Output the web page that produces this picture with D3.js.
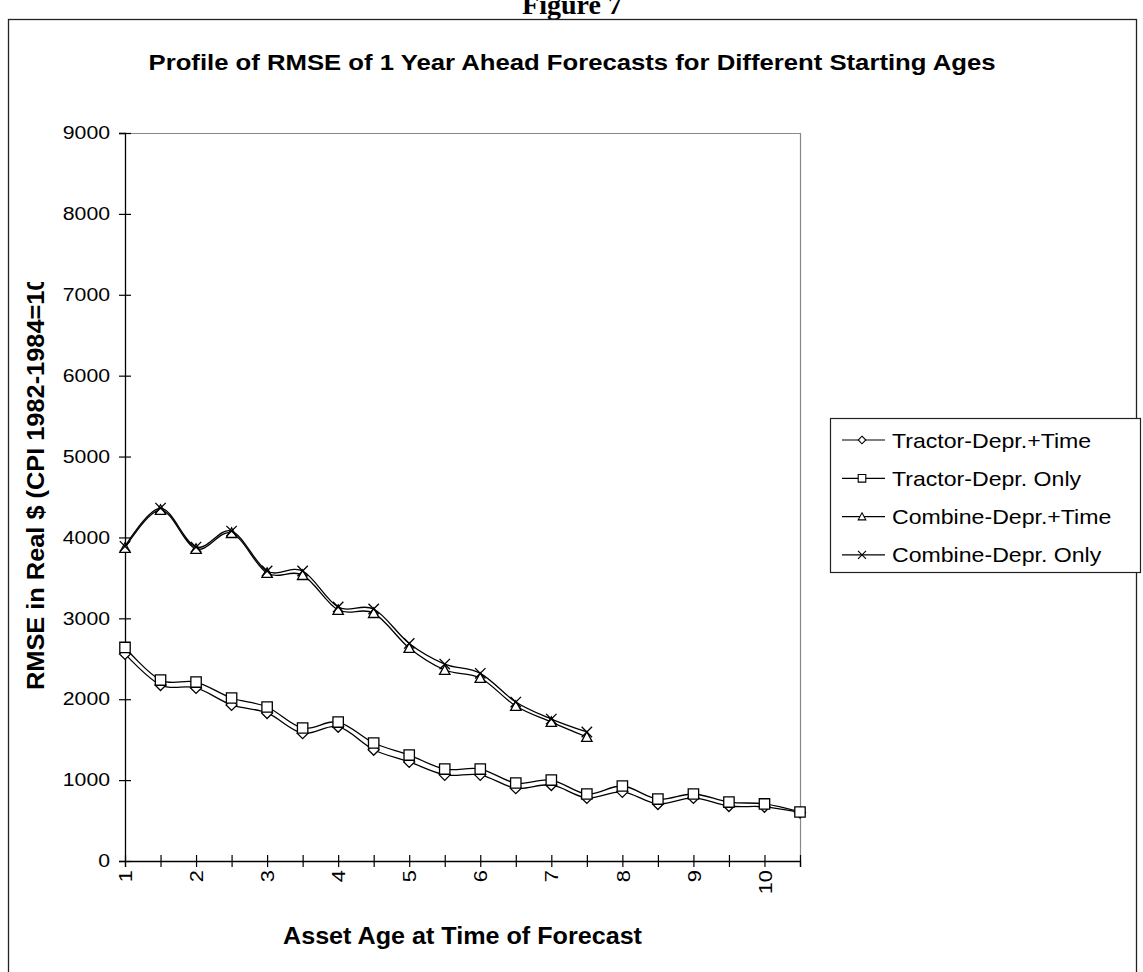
<!DOCTYPE html>
<html><head><meta charset="utf-8">
<script src="https://cdn.jsdelivr.net/npm/d3@7"></script>
<style>body{margin:0;background:#fff}svg{display:block}text{font-family:Arial,"Liberation Sans",sans-serif;fill:#000}</style>
</head><body><svg id="c" width="1143" height="972"></svg>
<script>
const ages = [1,1.5,2,2.5,3,3.5,4,4.5,5,5.5,6,6.5,7,7.5,8,8.5,9,9.5,10,10.5];
const tractorTime = [2560,2175,2140,1930,1830,1580,1660,1375,1225,1065,1065,900,940,780,855,705,780,680,670,600];
const tractorOnly = [2640,2237,2212,2015,1904,1644,1718,1459,1310,1137,1137,964,1001,828,927,766,828,729,705,606];
const combineTime = [3870,4340,3857,4054,3560,3535,3103,3065,2633,2361,2262,1916,1718,1533];
const combineOnly = [3890,4363,3881,4079,3585,3585,3140,3115,2690,2435,2320,1965,1755,1595];
const seriesNames = ["Tractor-Depr.+Time","Tractor-Depr. Only","Combine-Depr.+Time","Combine-Depr. Only"];
const yTicks = [0,1000,2000,3000,4000,5000,6000,7000,8000,9000];

const svg = d3.select("#c");
svg.append("text").attr("x",572).attr("y",14).attr("text-anchor","middle")
  .style("font-family","'Times New Roman','Liberation Serif',serif").style("font-weight","bold").style("font-size","28px").text("Figure 7");
svg.append("rect").attr("x",8.5).attr("y",19.5).attr("width",1128).attr("height",980)
  .attr("fill","none").attr("stroke","#222").attr("stroke-width",1.3);

const x = d3.scalePoint().domain(ages).range([125,800]);
const y = d3.scaleLinear().domain([0,9000]).range([861,133]);

svg.append("path").attr("d",`M125,133.5H800.5V861`).attr("fill","none").attr("stroke","#888").attr("stroke-width",1.2);

function stretch(sel, f){ sel.each(function(){ const L=this.getComputedTextLength(); d3.select(this).attr("textLength",L*f).attr("lengthAdjust","spacingAndGlyphs");}); }

const gy = svg.append("g").attr("transform","translate(125,0)")
  .call(d3.axisLeft(y).tickValues(yTicks).tickSize(6).tickPadding(9).tickFormat(d3.format("d")));
gy.select(".domain").attr("stroke","#000").attr("stroke-width",1.3);
gy.selectAll(".tick line").attr("x1",6).attr("stroke","#000").attr("stroke-width",1.2);
gy.selectAll(".tick text").style("font-size","18px").attr("font-family",null);
stretch(gy.selectAll(".tick text"),1.18);

const gx = svg.append("g").attr("transform","translate(0,861)")
  .call(d3.axisBottom(x).tickValues(ages).tickSize(6).tickFormat(d=>Number.isInteger(d)?String(d):""));
gx.select(".domain").attr("stroke","#000").attr("stroke-width",1.3);
gx.selectAll(".tick line").attr("y1",-6).attr("stroke","#000").attr("stroke-width",1.2);
gx.selectAll(".tick text").style("font-size","19px").attr("font-family",null)
  .attr("transform","rotate(-90)").attr("text-anchor","end").attr("x",-9).attr("y",0).attr("dy","0.35em");
stretch(gx.selectAll(".tick text"),1.15);

const M = {
  diamond:(s)=>`M0,${-s}L${s},0L0,${s}L${-s},0Z`,
  square:(s)=>`M${-s},${-s}H${s}V${s}H${-s}Z`,
  triangle:(s)=>`M0,${-s}L${s},${s*0.85}H${-s}Z`,
  cross:(s)=>`M${-s},${-s}L${s},${s}M${s},${-s}L${-s},${s}`
};
const kinds = ["diamond","square","triangle","cross"];
const data = [tractorTime,tractorOnly,combineTime,combineOnly];
const line = d3.line().x((d,i)=>x(ages[i])).y(d=>y(d)).curve(d3.curveCardinal.tension(0));

data.forEach((vals,k)=>{
  const g = svg.append("g");
  g.append("path").attr("d",line(vals)).attr("fill","none").attr("stroke","#000").attr("stroke-width",1.3);
  g.selectAll("path.m").data(vals).join("path").attr("class","m")
    .attr("transform",(d,i)=>`translate(${x(ages[i])},${y(d)})`)
    .attr("d",M[kinds[k]](k===0?5.5:5.2))
    .attr("fill",kinds[k]==="cross"?"none":"#fff").attr("stroke","#000").attr("stroke-width",1.3);
});

svg.append("text").attr("x",572).attr("y",70).attr("text-anchor","middle")
  .style("font-weight","bold").style("font-size","22px")
  .attr("textLength",847).attr("lengthAdjust","spacingAndGlyphs")
  .text("Profile of RMSE of 1 Year Ahead Forecasts for Different Starting Ages");
svg.append("text").attr("x",462.5).attr("y",944).attr("text-anchor","middle")
  .style("font-weight","bold").style("font-size","23px")
  .attr("textLength",359).attr("lengthAdjust","spacingAndGlyphs")
  .text("Asset Age at Time of Forecast");
svg.append("clipPath").attr("id","yc").append("rect").attr("x",0).attr("y",282).attr("width",120).attr("height",500);
svg.append("g").attr("clip-path","url(#yc)").append("text")
  .attr("transform","translate(44,690) rotate(-90)").attr("text-anchor","start")
  .style("font-weight","bold").style("font-size","23px")
  .attr("textLength",436).attr("lengthAdjust","spacingAndGlyphs")
  .text("RMSE in Real $ (CPI 1982-1984=100)");

const lg = svg.append("g");
lg.append("rect").attr("x",830.5).attr("y",418.5).attr("width",310).attr("height",154)
  .attr("fill","#fff").attr("stroke","#222").attr("stroke-width",1.2);
seriesNames.forEach((n,k)=>{
  const yy = 440 + k*38.3;
  lg.append("line").attr("x1",842).attr("x2",885).attr("y1",yy).attr("y2",yy).attr("stroke","#000").attr("stroke-width",1.2);
  lg.append("path").attr("transform",`translate(862,${yy})`).attr("d",M[kinds[k]](k===3?4:3.8))
    .attr("fill",kinds[k]==="cross"?"none":"#fff").attr("stroke","#000").attr("stroke-width",1.1);
  const t = lg.append("text").attr("x",892).attr("y",yy).attr("dy","0.36em").style("font-size","21px").text(n);
  stretch(t,1.1);
});
</script></body></html>
